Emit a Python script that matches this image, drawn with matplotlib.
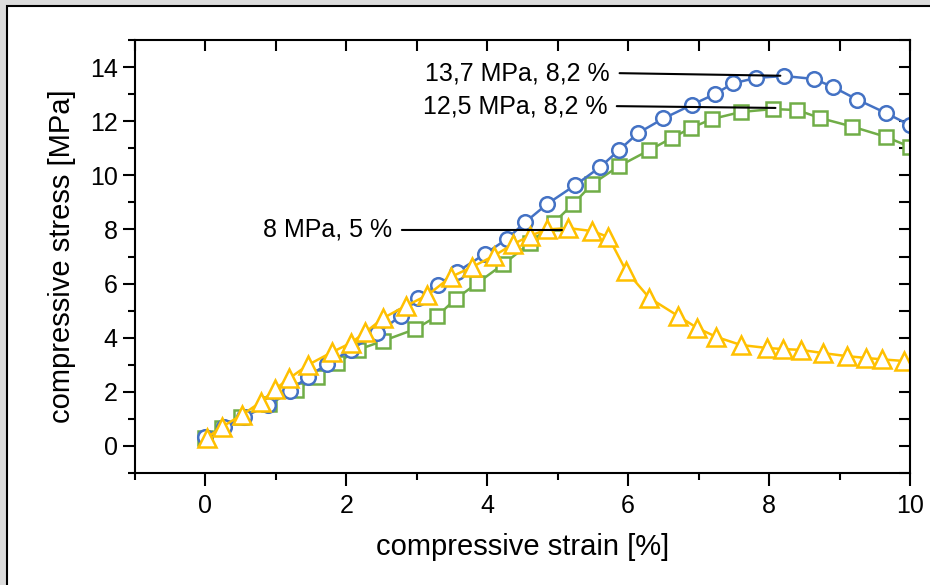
import matplotlib.pyplot as plt
from matplotlib.patches import Rectangle
from matplotlib.ticker import MultipleLocator

plt.rcParams['font.family'] = ['Liberation Sans', 'DejaVu Sans']

# sample 1 (blue circles)
strain_a = [0.0, 0.26, 0.54, 0.89, 1.2, 1.45, 1.73, 2.06, 2.44, 2.77, 3.02, 3.3, 3.57, 3.97,
            4.28, 4.54, 4.85, 5.25, 5.6, 5.87, 6.14, 6.5, 6.9, 7.23, 7.49, 7.82, 8.21, 8.64,
            8.91, 9.25, 9.66, 10.0]
stress_a = [0.33, 0.7, 1.07, 1.5, 2.03, 2.55, 3.03, 3.55, 4.17, 4.8, 5.47, 5.95, 6.43, 7.1,
            7.65, 8.27, 8.94, 9.64, 10.3, 10.93, 11.56, 12.1, 12.6, 13.0, 13.4, 13.6, 13.67, 13.56,
            13.26, 12.8, 12.3, 11.85]

# sample 2 (green squares)
strain_b = [0.0, 0.24, 0.5, 0.9, 1.28, 1.59, 1.87, 2.16, 2.52, 2.98, 3.29, 3.55, 3.86, 4.23,
            4.61, 4.94, 5.22, 5.49, 5.87, 6.3, 6.62, 6.89, 7.19, 7.6, 8.06, 8.4, 8.72, 9.18,
            9.66, 10.0]
stress_b = [0.3, 0.66, 1.07, 1.55, 2.07, 2.55, 3.07, 3.55, 3.88, 4.32, 4.8, 5.43, 6.02, 6.72,
            7.5, 8.24, 8.94, 9.68, 10.34, 10.93, 11.38, 11.75, 12.08, 12.34, 12.45, 12.41, 12.12, 11.8,
            11.42, 11.05]

# sample 3 (yellow triangles)
strain_c = [0.02, 0.23, 0.52, 0.79, 0.99, 1.19, 1.46, 1.8, 2.06, 2.27, 2.52, 2.84, 3.15, 3.48,
            3.79, 4.09, 4.37, 4.6, 4.85, 5.15, 5.49, 5.72, 5.97, 6.3, 6.71, 6.98, 7.25, 7.6,
            7.97, 8.2, 8.45, 8.77, 9.1, 9.38, 9.6, 9.91]
stress_c = [0.3, 0.7, 1.15, 1.63, 2.1, 2.5, 3.0, 3.47, 3.8, 4.2, 4.72, 5.17, 5.57, 6.24,
            6.62, 7.02, 7.46, 7.76, 8.0, 8.05, 7.94, 7.72, 6.47, 5.47, 4.8, 4.36, 4.03, 3.73,
            3.62, 3.58, 3.55, 3.43, 3.32, 3.25, 3.2, 3.14]

# peak annotations
peak_labels = ['13,7 MPa, 8,2 %', '12,5 MPa, 8,2 %', '8 MPa, 5 %']
peak_strain = [8.16, 8.09, 5.06]
peak_stress = [13.68, 12.49, 7.98]
label_x = [5.74, 5.70, 2.65]
label_y = [13.78, 12.56, 7.98]

fig = plt.figure(figsize=(9.3, 5.85), dpi=100, facecolor='#dcdcdc')
fig.patches.append(Rectangle((7 / 930, -0.05), 1.0, 1 - 6 / 585 + 0.05, transform=fig.transFigure,
                             facecolor='white', edgecolor='black', linewidth=1.5, zorder=-5))

ax = fig.add_axes([135 / 930, 112 / 585, 775 / 930, 433 / 585])
ax.set_zorder(2)

ax.plot(strain_b, stress_b, color='#70AD47', lw=1.8, marker='s', ms=9.5, mfc='white',
        mec='#70AD47', mew=1.8)
ax.plot(strain_a, stress_a, color='#4472C4', lw=1.8, marker='o', ms=10.5, mfc='white',
        mec='#4472C4', mew=1.8)
ax.plot(strain_c, stress_c, color='#FFC000', lw=1.8, marker='^', ms=12.5, mfc='white',
        mec='#FFC000', mew=1.8)

for txt, px, py, tx, ty in zip(peak_labels, peak_strain, peak_stress, label_x, label_y):
    ax.annotate(txt, xy=(px, py), xytext=(tx, ty), ha='right', va='center', fontsize=18,
                arrowprops=dict(arrowstyle='-', color='black', lw=1.5, shrinkA=5, shrinkB=0,
                                relpos=(1, 0.5)))

ax.set_xlim(-1, 10)
ax.set_ylim(-1, 15)
ax.xaxis.set_major_locator(MultipleLocator(2))
ax.xaxis.set_minor_locator(MultipleLocator(1))
ax.yaxis.set_major_locator(MultipleLocator(2))
ax.yaxis.set_minor_locator(MultipleLocator(1))

ax.tick_params(which='both', direction='out', width=1.5, labelsize=18, top=True, right=True)
ax.tick_params(which='major', length=9)
ax.tick_params(which='minor', length=5)
ax.tick_params(axis='x', which='both', pad=6)

for s in ax.spines.values():
    s.set_linewidth(1.5)

ax.set_xlabel('compressive strain [%]', fontsize=21, labelpad=11)
ax.set_ylabel('compressive stress [MPa]', fontsize=21, labelpad=10)

# top and right ticks point inward, bottom and left outward
for t in ax.xaxis.get_major_ticks() + ax.xaxis.get_minor_ticks():
    t.tick2line.set_marker(3)
    t.tick2line.set_markersize(8)
for t in ax.yaxis.get_major_ticks() + ax.yaxis.get_minor_ticks():
    t.tick2line.set_marker(0)
    t.tick2line.set_markersize(8)

fig.savefig('out.png', dpi=100, facecolor=fig.get_facecolor())
